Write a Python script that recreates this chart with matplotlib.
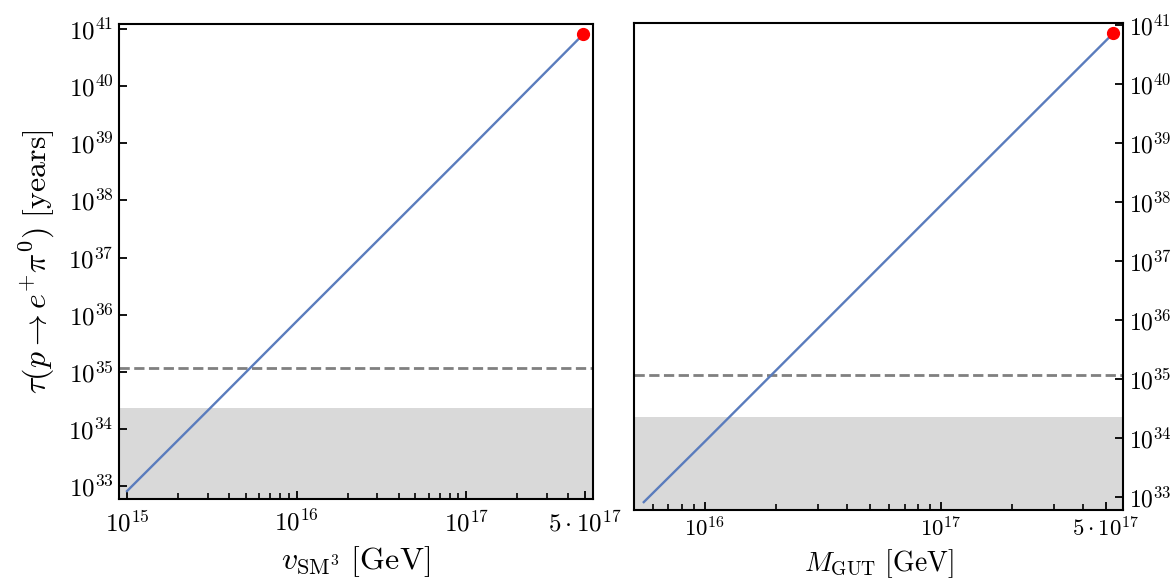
import matplotlib.pyplot as plt
from matplotlib.ticker import FixedLocator, FixedFormatter, LogLocator, NullFormatter, NullLocator

plt.rcParams['mathtext.fontset'] = 'cm'
plt.rcParams['font.family'] = 'DejaVu Serif'

# left panel: lifetime vs v_SM3 [GeV] -> [years]
v_sm3 = [1e15, 3e15, 1e16, 1e17, 4.9e17]
tau_v = [8.1e32, 2.1e34, 7.6e35, 7.0e38, 8.1e40]

# right panel: lifetime vs M_GUT [GeV] -> [years]
m_gut = [5.5e15, 1e16, 1e17, 5.36e17]
tau_m = [8.2e32, 8.8e33, 8.9e37, 7.3e40]

# experimental limits [years]
tau_excluded = 2.3e34
tau_future = 1.18e35

ytick_vals = [1e33, 1e34, 1e35, 1e36, 1e37, 1e38, 1e39, 1e40, 1e41]
ytick_labels = [r'$10^{%d}$' % e for e in range(33, 42)]
xtick_left = [1e15, 1e16, 1e17, 5e17]
xlab_left = [r'$10^{15}$', r'$10^{16}$', r'$10^{17}$', r'$5\cdot10^{17}$']
xtick_right = [1e16, 1e17, 5e17]
xlab_right = [r'$10^{16}$', r'$10^{17}$', r'$5\cdot10^{17}$']

blue = '#5a7cbd'

fig = plt.figure(figsize=(11.73, 5.87), dpi=100)
W, H = 1173, 587
ax1 = fig.add_axes([119 / W, (H - 499) / H, 474 / W, 475 / H])
ax2 = fig.add_axes([634 / W, (H - 510) / H, 489 / W, 487 / H])


def style(ax, xt, xl, side, xsize, ysize):
    ax.set_xscale('log')
    ax.set_yscale('log')
    ax.xaxis.set_major_locator(FixedLocator(xt))
    ax.xaxis.set_major_formatter(FixedFormatter(xl))
    ax.xaxis.set_minor_locator(LogLocator(base=10, subs=range(2, 10), numticks=20))
    ax.xaxis.set_minor_formatter(NullFormatter())
    ax.yaxis.set_major_locator(FixedLocator(ytick_vals))
    ax.yaxis.set_major_formatter(FixedFormatter(ytick_labels))
    ax.yaxis.set_minor_locator(NullLocator())
    for s in ax.spines.values():
        s.set_linewidth(1.5)
    ax.tick_params(axis='x', which='both', direction='in', top=False, bottom=True,
                   labelsize=xsize, pad=8)
    ax.tick_params(axis='x', which='major', length=6, width=1.3)
    ax.tick_params(axis='x', which='minor', length=4.5, width=1.2)
    ax.tick_params(axis='y', which='major', direction='in', length=6, width=1.3,
                   labelsize=ysize, left=(side == 'left'), right=(side == 'right'),
                   labelleft=(side == 'left'), labelright=(side == 'right'), pad=4)


# left
ax1.axhspan(1e30, tau_excluded, color='#d9d9d9', lw=0, zorder=0)
ax1.axhline(tau_future, color='#808080', ls='--', lw=2)
ax1.plot(v_sm3, tau_v, color=blue, lw=1.7)
ax1.plot(v_sm3[-1], tau_v[-1], 'o', color='red', ms=8.5, clip_on=False, zorder=5)
ax1.set_xlim(8.97e14, 5.6e17)
ax1.set_ylim(10 ** 32.77, 10 ** 41.09)
style(ax1, xtick_left, xlab_left, 'left', 18, 18)
ax1.set_xlabel(r'$v_{\mathrm{SM}^3}\ [\mathrm{GeV}]$', fontsize=23, labelpad=6)
ax1.set_ylabel(r'$\tau(p \rightarrow e^{+}\pi^{0})\ [\mathrm{years}]$', fontsize=23, labelpad=8)

# right
ax2.axhspan(1e30, tau_excluded, color='#d9d9d9', lw=0, zorder=0)
ax2.axhline(tau_future, color='#808080', ls='--', lw=2)
ax2.plot(m_gut, tau_m, color=blue, lw=1.7)
ax2.plot(m_gut[-1], tau_m[-1], 'o', color='red', ms=8.5, clip_on=False, zorder=5)
ax2.set_xlim(5.0e15, 5.9e17)
ax2.set_ylim(10 ** 32.78, 10 ** 41.04)
style(ax2, xtick_right, xlab_right, 'right', 16.5, 17)
ax2.tick_params(axis='x', pad=5)
ax2.set_xlabel(r'$M_{\mathrm{GUT}}\ [\mathrm{GeV}]$', fontsize=20, labelpad=4)

fig.savefig('out.png', dpi=100)
